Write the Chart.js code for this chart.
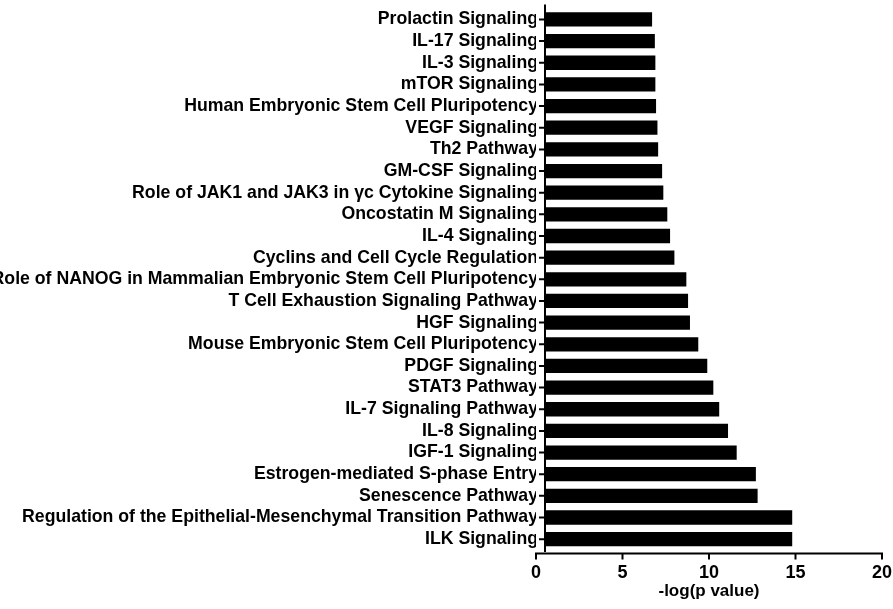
<!DOCTYPE html>
<html>
<head>
<meta charset="utf-8">
<script src="https://cdn.jsdelivr.net/npm/chart.js@4.4.1/dist/chart.umd.min.js"></script>
<style>
    html, body { margin: 0; padding: 0; background: #fff; }
    #wrap { width: 893px; height: 609px; position: relative; }
</style>
</head>
<body>
<div id="wrap"><canvas id="pathwayChart"></canvas></div>
<script>
// Pathways, top to bottom as shown
const pathways = [
    'Prolactin Signaling',
    'IL-17 Signaling',
    'IL-3 Signaling',
    'mTOR Signaling',
    'Human Embryonic Stem Cell Pluripotency',
    'VEGF Signaling',
    'Th2 Pathway',
    'GM-CSF Signaling',
    'Role of JAK1 and JAK3 in \u03b3c Cytokine Signaling',
    'Oncostatin M Signaling',
    'IL-4 Signaling',
    'Cyclins and Cell Cycle Regulation',
    'Role of NANOG in Mammalian Embryonic Stem Cell Pluripotency',
    'T Cell Exhaustion Signaling Pathway',
    'HGF Signaling',
    'Mouse Embryonic Stem Cell Pluripotency',
    'PDGF Signaling',
    'STAT3 Pathway',
    'IL-7 Signaling Pathway',
    'IL-8 Signaling',
    'IGF-1 Signaling',
    'Estrogen-mediated S-phase Entry',
    'Senescence Pathway',
    'Regulation of the Epithelial-Mesenchymal Transition Pathway',
    'ILK Signaling'
];

// -log(p value) per pathway
const negLogP = [
    6.71, 6.87, 6.90, 6.90, 6.94, 7.02, 7.06, 7.29, 7.36,
    7.59, 7.75, 8.00, 8.69, 8.79, 8.90, 9.38, 9.90, 10.25,
    10.59, 11.10, 11.60, 12.71, 12.81, 14.81, 14.81
];

// x axis ticks
const xTicks = [0, 5, 10, 15, 20];

const FONT = '"Liberation Sans", Arial, sans-serif';
const AXIS_GAP = 9; // prism-style gap between x=0 and the y axis line

// Draws the offset axis lines and tick marks
const prismAxes = {
    id: 'prismAxes',
    afterDatasetsDraw(chart) {
        const { ctx, chartArea, scales } = chart;
        const x = scales.x, y = scales.y;
        const x0 = x.getPixelForValue(xTicks[0]);
        const yLine = x0 + AXIS_GAP;
        const xAxisY = chartArea.bottom + 3.5;

        ctx.save();
        ctx.strokeStyle = '#000';
        ctx.lineWidth = 2;
        ctx.lineCap = 'butt';

        // y axis
        ctx.beginPath();
        ctx.moveTo(yLine, chartArea.top - 4);
        ctx.lineTo(yLine, chartArea.bottom + 2);
        pathways.forEach((p, i) => {
            const py = y.getPixelForTick(i);
            ctx.moveTo(yLine - 6, py);
            ctx.lineTo(yLine, py);
        });
        ctx.stroke();

        // x axis
        ctx.beginPath();
        ctx.moveTo(x0 - 1, xAxisY);
        ctx.lineTo(x.getPixelForValue(xTicks[xTicks.length - 1]) + 1, xAxisY);
        xTicks.forEach(v => {
            const px = x.getPixelForValue(v);
            ctx.moveTo(px, xAxisY);
            ctx.lineTo(px, xAxisY + 6);
        });
        ctx.stroke();
        ctx.restore();
    }
};

new Chart(document.getElementById('pathwayChart'), {
    type: 'bar',
    data: {
        labels: pathways,
        datasets: [{
            data: negLogP,
            backgroundColor: '#000',
            borderWidth: 0,
            base: 0.55,
            barPercentage: 0.66,
            categoryPercentage: 1
        }]
    },
    options: {
        indexAxis: 'y',
        responsive: true,
        maintainAspectRatio: false,
        animation: false,
        layout: {
            padding: { top: 6, right: 11, bottom: 0, left: 0 }
        },
        plugins: {
            legend: { display: false },
            tooltip: { enabled: false }
        },
        scales: {
            x: {
                min: 0,
                max: 20,
                afterBuildTicks: scale => {
                    scale.ticks = xTicks.map(v => ({ value: v }));
                },
                afterFit: scale => {
                    scale.height = 59;
                    scale.paddingRight = 0;
                },
                grid: { display: false, drawTicks: false },
                border: { display: false },
                ticks: {
                    color: '#000',
                    padding: 12,
                    maxRotation: 0,
                    font: { family: FONT, size: 18, weight: 'bold' }
                },
                title: {
                    display: true,
                    text: '-log(p value)',
                    color: '#000',
                    padding: { top: 0, bottom: 7 },
                    font: { family: FONT, size: 17, weight: 'bold' }
                }
            },
            y: {
                afterFit: scale => { scale.width = 536; },
                grid: { display: false, drawTicks: false },
                border: { display: false },
                ticks: {
                    color: '#000',
                    padding: -2,
                    autoSkip: false,
                    font: { family: FONT, size: 17.7, weight: 'bold' }
                }
            }
        }
    },
    plugins: [prismAxes]
});
</script>
</body>
</html>
